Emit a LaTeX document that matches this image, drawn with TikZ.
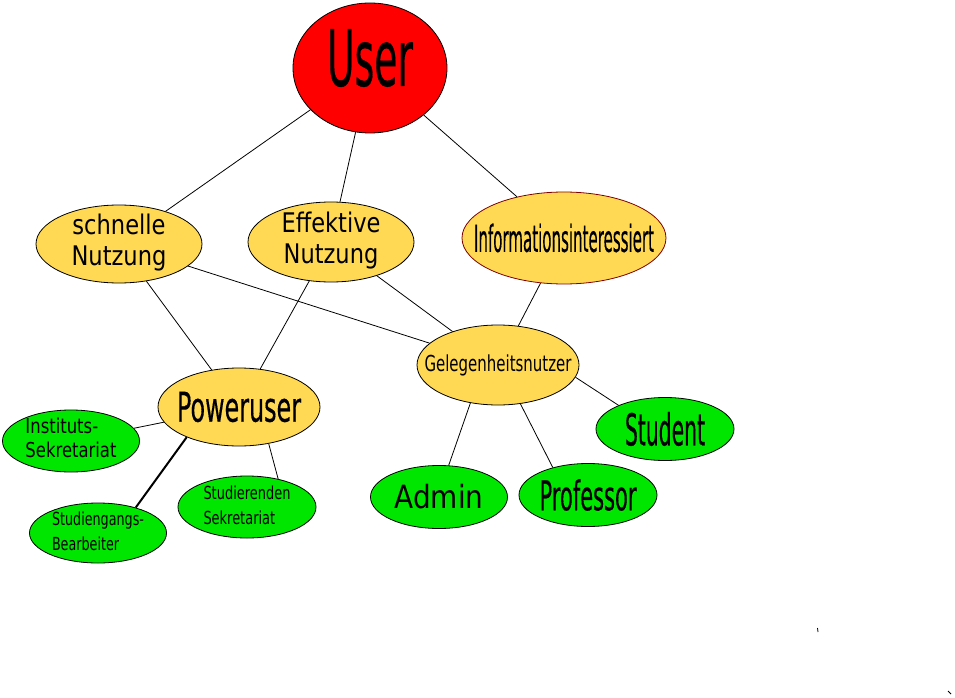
\documentclass[tikz,border=0pt]{standalone}
\usepackage{fontspec}
\usepackage{graphicx}
\usetikzlibrary{shapes.geometric}
\setmainfont{DejaVu Sans}
\newfontfamily\condfont[FakeBold=0.5]{DejaVu Sans}
\newcommand{\squeeze}[2]{\resizebox{#1}{\height}{#2}}
\definecolor{roleyellow}{RGB}{255,217,84}
\definecolor{rolegreen}{RGB}{0,230,0}
\definecolor{rolered}{RGB}{255,0,0}
\definecolor{darkrim}{RGB}{128,0,0}
\tikzset{
  role/.style={ellipse,draw=black,line width=0.8pt,inner sep=0pt},
  goal/.style={role,fill=roleyellow},
  person/.style={role,fill=rolegreen},
  link/.style={draw=black,line width=0.8pt},
  every label/.style={inner sep=0pt}
}
\begin{document}
\begin{tikzpicture}[x=1pt,y=-1pt]
\useasboundingbox (0,0) rectangle (955,698);
\node[role,fill=rolered,minimum width=154pt,minimum height=130pt,
  label={[yshift=10pt]center:\condfont\fontsize{78}{80}\selectfont\squeeze{86pt}{User}}] (user) at (370,68) {};
\node[goal,minimum width=166pt,minimum height=78pt,
  label={center:\fontsize{27}{31}\selectfont\squeeze{95pt}{\begin{tabular}{@{}c@{}}schnelle\\Nutzung\end{tabular}}}] (schnell) at (119,244) {};
\node[goal,minimum width=166pt,minimum height=80pt,
  label={center:\fontsize{27}{31}\selectfont\squeeze{99pt}{\begin{tabular}{@{}c@{}}Effektive\\Nutzung\end{tabular}}}] (effektiv) at (331,242) {};
\node[goal,draw=darkrim,minimum width=204pt,minimum height=92pt,
  label={center:\condfont\fontsize{37}{40}\selectfont\squeeze{180pt}{Informationsinteressiert}}] (info) at (564,238) {};
\node[goal,minimum width=162pt,minimum height=80pt,
  label={center:\fontsize{22}{24}\selectfont\squeeze{147pt}{Gelegenheitsnutzer}}] (gelegen) at (498,365) {};
\node[goal,minimum width=162pt,minimum height=78pt,
  label={center:\condfont\fontsize{41}{44}\selectfont\squeeze{124pt}{Poweruser}}] (power) at (239,407) {};
%
\node[person,minimum width=137pt,minimum height=62pt,
  label={center:\fontsize{20.5}{24}\selectfont\squeeze{91pt}{\begin{tabular}{@{}l@{}}Instituts-\\Sekretariat\end{tabular}}}] (institut) at (71,441) {};
\node[person,minimum width=137pt,minimum height=60pt,
  label={center:\fontsize{18}{25}\selectfont\squeeze{92pt}{\begin{tabular}{@{}l@{}}Studiengangs-\\Bearbeiter\end{tabular}}}] (studgang) at (98,533) {};
\node[person,minimum width=138pt,minimum height=62pt,
  label={center:\fontsize{18}{25}\selectfont\squeeze{87pt}{\begin{tabular}{@{}l@{}}Studierenden\\Sekretariat\end{tabular}}}] (studsek) at (247,507) {};
\node[person,minimum width=137pt,minimum height=63pt,
  label={center:\fontsize{32}{34}\selectfont\squeeze{89pt}{Admin}}] (admin) at (439,497) {};
\node[person,minimum width=138pt,minimum height=63pt,
  label={center:\condfont\fontsize{41}{44}\selectfont\squeeze{97pt}{Professor}}] (prof) at (588,495) {};
\node[person,minimum width=138pt,minimum height=63pt,
  label={center:\condfont\fontsize{44}{46}\selectfont\squeeze{80pt}{Student}}] (student) at (665,429) {};
%
\path[link] (user) -- (schnell);
\path[link] (user) -- (effektiv);
\path[link] (user) -- (info);
\path[link] (schnell) -- (power);
\path[link] (schnell) -- (gelegen);
\path[link] (effektiv) -- (power);
\path[link] (effektiv) -- (gelegen);
\path[link] (info) -- (gelegen);
\path[link] (gelegen.234) -- (admin.73);
\path[link] (gelegen.-60) -- (prof.142);
\path[link] (gelegen.-9) -- (student.153);
\path[link] (power) -- (institut);
\path[link,line width=2pt] (power.210) -- (studgang.34);
\path[link] (power.-51) -- (studsek.42);
%
\draw[line width=0.8pt] (817.5,628) -- (818,632);
\draw[line width=0.8pt] (948,691) -- (951,694);
\end{tikzpicture}
\end{document}
